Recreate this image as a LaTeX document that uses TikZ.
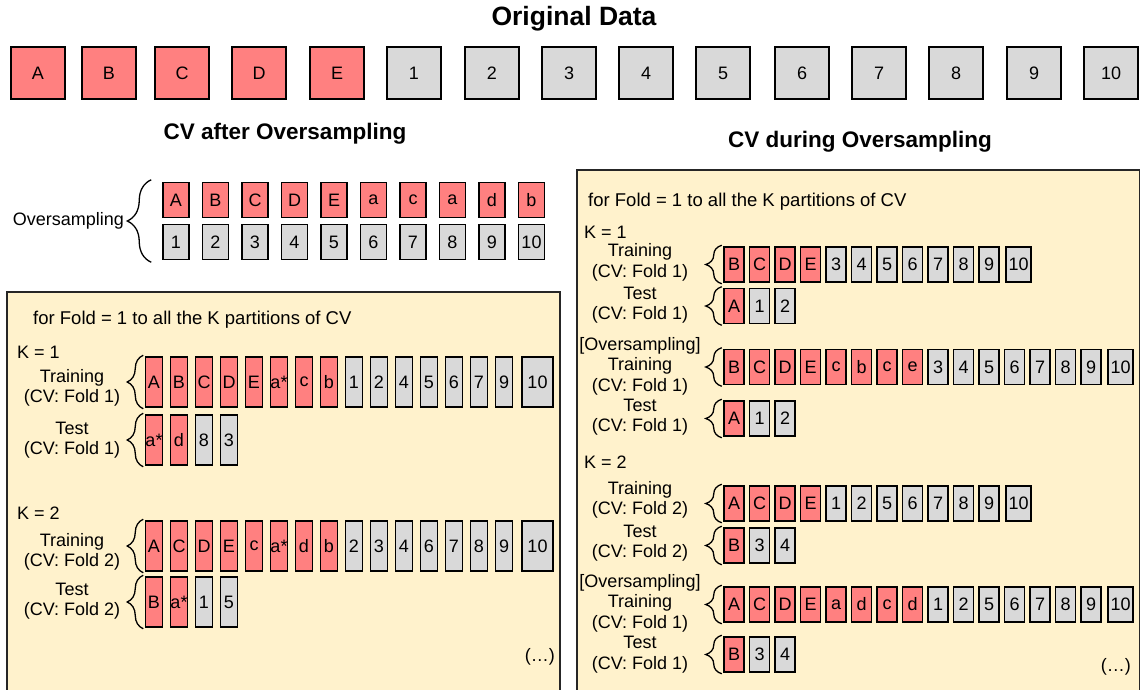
\documentclass[tikz,border=0pt]{standalone}
\usepackage{fontspec}
\setmainfont{Liberation Sans}
\usetikzlibrary{positioning,decorations.pathreplacing}
\definecolor{minred}{RGB}{255,128,128}
\definecolor{majgray}{RGB}{217,217,217}
\definecolor{panelyellow}{RGB}{255,242,204}

\begin{document}
\begin{tikzpicture}[
    x=1pt, y=-1pt,
    txt/.style={font=\fontsize{18}{20.5}\selectfont, inner sep=0pt},
    lbl/.style={txt, align=center},
    title/.style={font=\fontsize{22.5}{26}\selectfont\bfseries, inner sep=0pt},
    bigcell/.style={rectangle, draw=black, line width=2pt, minimum width=54pt,
                    minimum height=52pt, inner sep=0pt, font=\fontsize{18}{20}\selectfont},
    oscell/.style={rectangle, draw=black, line width=1.5pt, txt,
                   minimum width=26pt, minimum height=35pt},
    lcell/.style={rectangle, draw=black, line width=1.5pt, txt,
                  minimum width=17pt, minimum height=50pt},
    rcell/.style={rectangle, draw=black, line width=1.5pt, txt,
                  minimum width=20pt, minimum height=35pt},
    panel/.style={draw=black!85, line width=1.5pt, fill=panelyellow},
    curly/.style={decorate, decoration={brace, amplitude=#1}, line width=1.3pt}
]
\useasboundingbox (0,0) rectangle (1141,689);

% Original data (top row)
\node[title, font=\fontsize{26.5}{30}\selectfont\bfseries] (orig-title) at (574, 19) {Original Data};
\foreach \t/\x in {A/38, B/109, C/182, D/259, E/337}
  \node[bigcell, fill=minred] (orig-\t) at (\x, 73) {\t};
\foreach \t/\x in {1/414, 2/492, 3/569, 4/646, 5/723, 6/802, 7/879, 8/956, 9/1034, 10/1111}
  \node[bigcell, fill=majgray] (orig-\t) at (\x, 73) {\t};

% CV after oversampling
\node[title] (after-title) at (285, 134) {CV after Oversampling};
\foreach \t [count=\i from 0] in {A,B,C,D,E,a,c,a,d,b}
  \node[oscell, fill=minred] (ovs-up-\i) at (176+39.5*\i, 200) {\t};
\foreach \t [count=\i from 0] in {1,...,10}
  \node[oscell, fill=majgray] (ovs-lo-\i) at (176+39.5*\i, 242) {\t};
\draw[curly=24pt] ([xshift=-11pt, yshift=-2pt]ovs-lo-0.south west) -- ([xshift=-11pt, yshift=2pt]ovs-up-0.north west);
\node[txt, anchor=east] (ovs-lbl) at (124, 221) {Oversampling};

\draw[panel] (7, 292) rectangle (560, 700);
\node[txt, font=\fontsize{18.5}{20}\selectfont, anchor=west] (lfor) at (33, 320) {for Fold = 1 to all the K partitions of CV};

% K = 1
\node[txt, anchor=west] (lk1) at (17, 352) {K = 1};
\foreach \t [count=\i from 0] in {A,B,C,D,E,a*,c,b}
  \node[lcell, fill=minred] (ltr1-\i) at (154+25*\i, 382) {\t};
\foreach \t [count=\i from 8] in {1,2,4,5,6,7,9}
  \node[lcell, fill=majgray] (ltr1-\i) at (154+25*\i, 382) {\t};
\node[lcell, fill=majgray, minimum width=31pt, right=8pt of ltr1-14] (ltr1-15) {10};
\draw[curly=16pt] ([xshift=-1.5pt, yshift=-1pt]ltr1-0.south west) -- ([xshift=-1.5pt, yshift=1pt]ltr1-0.north west);
\node[lbl] (ltr1-lbl) at (72, 388) {Training\\(CV: Fold 1)};

\foreach \t [count=\i from 0] in {a*,d}
  \node[lcell, fill=minred] (lte1-\i) at (154+25*\i, 440) {\t};
\foreach \t [count=\i from 2] in {8,3}
  \node[lcell, fill=majgray] (lte1-\i) at (154+25*\i, 440) {\t};
\draw[curly=16pt] ([xshift=-1.5pt, yshift=-1pt]lte1-0.south west) -- ([xshift=-1.5pt, yshift=1pt]lte1-0.north west);
\node[lbl] (lte1-lbl) at (72, 440) {Test\\(CV: Fold 1)};

% K = 2
\node[txt, anchor=west] (lk2) at (17, 513) {K = 2};
\foreach \t [count=\i from 0] in {A,C,D,E,c,a*,d,b}
  \node[lcell, fill=minred] (ltr2-\i) at (154+25*\i, 546) {\t};
\foreach \t [count=\i from 8] in {2,3,4,6,7,8,9}
  \node[lcell, fill=majgray] (ltr2-\i) at (154+25*\i, 546) {\t};
\node[lcell, fill=majgray, minimum width=31pt, right=8pt of ltr2-14] (ltr2-15) {10};
\draw[curly=16pt] ([xshift=-1.5pt, yshift=-1pt]ltr2-0.south west) -- ([xshift=-1.5pt, yshift=1pt]ltr2-0.north west);
\node[lbl] (ltr2-lbl) at (72, 552) {Training\\(CV: Fold 2)};

\foreach \t [count=\i from 0] in {B,a*}
  \node[lcell, fill=minred] (lte2-\i) at (154+25*\i, 602) {\t};
\foreach \t [count=\i from 2] in {1,5}
  \node[lcell, fill=majgray] (lte2-\i) at (154+25*\i, 602) {\t};
\draw[curly=16pt] ([xshift=-1.5pt, yshift=-1pt]lte2-0.south west) -- ([xshift=-1.5pt, yshift=1pt]lte2-0.north west);
\node[lbl] (lte2-lbl) at (72, 601) {Test\\(CV: Fold 2)};

\node[txt, anchor=east] (ldots) at (555, 657) {(…)};

% CV during oversampling
\node[title] (during-title) at (860, 142) {CV during Oversampling};
\draw[panel] (577, 170) rectangle (1139.5, 700);
\node[txt, font=\fontsize{18.5}{20}\selectfont, anchor=west] (rfor) at (588, 202) {for Fold = 1 to all the K partitions of CV};

% K = 1
\node[txt, anchor=west] (rk1) at (584, 232) {K = 1};
\foreach \t [count=\i from 0] in {B,C,D,E}
  \node[rcell, fill=minred] (rtr1-\i) at (734+25.5*\i, 264.5) {\t};
\foreach \t [count=\i from 4] in {3,...,9}
  \node[rcell, fill=majgray] (rtr1-\i) at (734+25.5*\i, 264.5) {\t};
\node[rcell, fill=majgray, minimum width=25pt, right=5.5pt of rtr1-10] (rtr1-11) {10};
\draw[curly=16pt] ([xshift=-1.5pt, yshift=-1pt]rtr1-0.south west) -- ([xshift=-1.5pt, yshift=1pt]rtr1-0.north west);
\node[lbl] (rtr1-lbl) at (640, 262.5) {Training\\(CV: Fold 1)};

\node[rcell, fill=minred] (rte1-0) at (734, 306) {A};
\foreach \t [count=\i from 1] in {1,2}
  \node[rcell, fill=majgray] (rte1-\i) at (734+25.5*\i, 306) {\t};
\draw[curly=16pt] ([xshift=-1.5pt, yshift=-1pt]rte1-0.south west) -- ([xshift=-1.5pt, yshift=1pt]rte1-0.north west);
\node[lbl] (rte1-lbl) at (640, 305) {Test\\(CV: Fold 1)};

\foreach \t [count=\i from 0] in {B,C,D,E,c,b,c,e}
  \node[rcell, fill=minred] (rov1-\i) at (734+25.5*\i, 367) {\t};
\foreach \t [count=\i from 8] in {3,...,9}
  \node[rcell, fill=majgray] (rov1-\i) at (734+25.5*\i, 367) {\t};
\node[rcell, fill=majgray, minimum width=25pt, right=5.5pt of rov1-14] (rov1-15) {10};
\draw[curly=16pt] ([xshift=-1.5pt, yshift=-1pt]rov1-0.south west) -- ([xshift=-1.5pt, yshift=1pt]rov1-0.north west);
\node[lbl] (rov1-lbl) at (640, 366) {[Oversampling]\\Training\\(CV: Fold 1)};

\node[rcell, fill=minred] (rov1te-0) at (734, 418.5) {A};
\foreach \t [count=\i from 1] in {1,2}
  \node[rcell, fill=majgray] (rov1te-\i) at (734+25.5*\i, 418.5) {\t};
\draw[curly=16pt] ([xshift=-1.5pt, yshift=-1pt]rov1te-0.south west) -- ([xshift=-1.5pt, yshift=1pt]rov1te-0.north west);
\node[lbl] (rov1te-lbl) at (640, 417) {Test\\(CV: Fold 1)};

% K = 2
\node[txt, anchor=west] (rk2) at (584, 462) {K = 2};
\foreach \t [count=\i from 0] in {A,C,D,E}
  \node[rcell, fill=minred] (rtr2-\i) at (734+25.5*\i, 503.5) {\t};
\foreach \t [count=\i from 4] in {1,2,5,6,7,8,9}
  \node[rcell, fill=majgray] (rtr2-\i) at (734+25.5*\i, 503.5) {\t};
\node[rcell, fill=majgray, minimum width=25pt, right=5.5pt of rtr2-10] (rtr2-11) {10};
\draw[curly=16pt] ([xshift=-1.5pt, yshift=-1pt]rtr2-0.south west) -- ([xshift=-1.5pt, yshift=1pt]rtr2-0.north west);
\node[lbl] (rtr2-lbl) at (640, 500) {Training\\(CV: Fold 2)};

\node[rcell, fill=minred] (rte2-0) at (734, 545.5) {B};
\foreach \t [count=\i from 1] in {3,4}
  \node[rcell, fill=majgray] (rte2-\i) at (734+25.5*\i, 545.5) {\t};
\draw[curly=16pt] ([xshift=-1.5pt, yshift=-1pt]rte2-0.south west) -- ([xshift=-1.5pt, yshift=1pt]rte2-0.north west);
\node[lbl] (rte2-lbl) at (640, 543) {Test\\(CV: Fold 2)};

\foreach \t [count=\i from 0] in {A,C,D,E,a,d,c,d}
  \node[rcell, fill=minred] (rov2-\i) at (734+25.5*\i, 604.5) {\t};
\foreach \t [count=\i from 8] in {1,2,5,6,7,8,9}
  \node[rcell, fill=majgray] (rov2-\i) at (734+25.5*\i, 604.5) {\t};
\node[rcell, fill=majgray, minimum width=25pt, right=5.5pt of rov2-14] (rov2-15) {10};
\draw[curly=16pt] ([xshift=-1.5pt, yshift=-1pt]rov2-0.south west) -- ([xshift=-1.5pt, yshift=1pt]rov2-0.north west);
\node[lbl] (rov2-lbl) at (640, 603) {[Oversampling]\\Training\\(CV: Fold 1)};

\node[rcell, fill=minred] (rov2te-0) at (734, 654.5) {B};
\foreach \t [count=\i from 1] in {3,4}
  \node[rcell, fill=majgray] (rov2te-\i) at (734+25.5*\i, 654.5) {\t};
\draw[curly=16pt] ([xshift=-1.5pt, yshift=-1pt]rov2te-0.south west) -- ([xshift=-1.5pt, yshift=1pt]rov2te-0.north west);
\node[lbl] (rov2te-lbl) at (640, 654.5) {Test\\(CV: Fold 1)};

\node[txt, anchor=east] (rdots) at (1131, 667) {(…)};

\end{tikzpicture}
\end{document}
